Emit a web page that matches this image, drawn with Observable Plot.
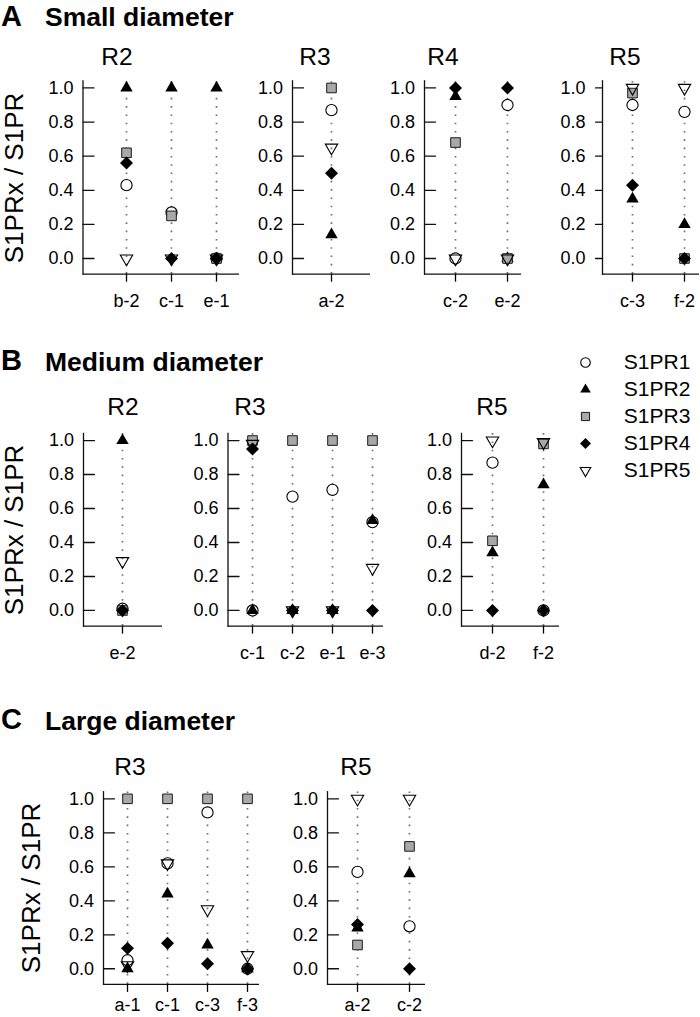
<!DOCTYPE html>
<html><head><meta charset="utf-8">
<script src="https://cdn.jsdelivr.net/npm/d3@7"></script>
<script src="https://cdn.jsdelivr.net/npm/@observablehq/plot@0.6"></script>
<style>
body{margin:0;background:#fff;}
#fig{position:relative;width:700px;height:1017px;font-family:"Liberation Sans",Arial,Helvetica,sans-serif;color:#000;overflow:hidden;background:#fff}
.abs{position:absolute;white-space:nowrap;line-height:1}
#fig svg{position:absolute;overflow:visible}
</style></head><body><div id="fig"></div>
<script>
// ---------------- DATA ----------------
const series = ["S1PR1", "S1PR2", "S1PR3", "S1PR4", "S1PR5"];
const yTicks = [0, 0.2, 0.4, 0.6, 0.8, 1.0];

// A  Small diameter  (rows: S1PR1..S1PR5, columns: samples)
const smallR2Samples = ["b-2", "c-1", "e-1"];
const smallR2Values = [[0.43, 0.27, 0.00], [1.00, 1.00, 1.00], [0.62, 0.25, 0.00], [0.56, 0.00, 0.00], [0.00, 0.00, 0.00]];
const smallR3Samples = ["a-2"];
const smallR3Values = [[0.87], [0.14], [1.00], [0.50], [0.65]];
const smallR4Samples = ["c-2", "e-2"];
const smallR4Values = [[0.00, 0.90], [0.95, 0.00], [0.68, 0.00], [1.00, 1.00], [0.00, 0.00]];
const smallR5Samples = ["c-3", "f-2"];
const smallR5Values = [[0.90, 0.86], [0.35, 0.20], [0.97, 0.00], [0.43, 0.00], [1.00, 1.00]];

// B  Medium diameter
const mediumR2Samples = ["e-2"];
const mediumR2Values = [[0.01], [1.00], [0.00], [0.00], [0.29]];
const mediumR3Samples = ["c-1", "c-2", "e-1", "e-3"];
const mediumR3Values = [[0.00, 0.67, 0.71, 0.52], [0.00, 0.00, 0.00, 0.53], [1.00, 1.00, 1.00, 1.00], [0.95, 0.00, 0.00, 0.00], [0.98, 0.00, 0.00, 0.25]];
const mediumR5Samples = ["d-2", "f-2"];
const mediumR5Values = [[0.87, 0.00], [0.34, 0.74], [0.41, 0.98], [0.00, 0.00], [1.00, 0.99]];

// C  Large diameter
const largeR3Samples = ["a-1", "c-1", "c-3", "f-3"];
const largeR3Values = [[0.05, 0.62, 0.92, 0.00], [0.00, 0.44, 0.14, 0.00], [1.00, 1.00, 1.00, 1.00], [0.12, 0.15, 0.03, 0.00], [0.02, 0.62, 0.35, 0.08]];
const largeR5Samples = ["a-2", "c-2"];
const largeR5Values = [[0.57, 0.25], [0.24, 0.56], [0.14, 0.72], [0.26, 0.00], [1.00, 1.00]];

// ---------------- STYLE ----------------
const FONT = '"Liberation Sans", Arial, Helvetica, sans-serif';
const yDomain = [-0.092, 1.042];

function makeSymbol(fn) { return {draw(ctx, size) { fn(ctx, Math.sqrt(size / Math.PI)); }}; }
const circleSym = makeSymbol((c, s) => { c.moveTo(s, 0); c.arc(0, 0, s, 0, 2 * Math.PI); c.closePath(); });
const triUpSym = makeSymbol((c, s) => { const h = s * 1.732; c.moveTo(0, -2 / 3 * h); c.lineTo(s, h / 3); c.lineTo(-s, h / 3); c.closePath(); });
const triDownSym = makeSymbol((c, s) => { const h = s * 1.732; c.moveTo(0, 2 / 3 * h); c.lineTo(s, -h / 3); c.lineTo(-s, -h / 3); c.closePath(); });
const squareSym = makeSymbol((c, s) => { const a = 0.8 * s; c.moveTo(-a, -a); c.lineTo(a, -a); c.lineTo(a, a); c.lineTo(-a, a); c.closePath(); });
const diamondSym = makeSymbol((c, s) => { const a = 1.08 * s; c.moveTo(0, -a); c.lineTo(a, 0); c.lineTo(0, a); c.lineTo(-a, 0); c.closePath(); });

const seriesStyle = [
  {symbol: circleSym, r: 5.6, fill: "white", stroke: "black", strokeWidth: 1.1},
  {symbol: triUpSym, r: 6.2, fill: "black", stroke: "none"},
  {symbol: squareSym, r: 6, fill: "#a8a8a8", stroke: "#1a1a1a", strokeWidth: 1},
  {symbol: diamondSym, r: 6, fill: "black", stroke: "none"},
  {symbol: triDownSym, r: 6.2, fill: "none", stroke: "black", strokeWidth: 1.1}
];
const tickShape = {draw(ctx, l) { ctx.moveTo(0, 0); ctx.lineTo(0, -l); }};

const rows = {
  A: {top: 70, height: 250, marginTop: 10.3, marginBottom: 46.3, xPad: 12},
  B: {top: 420, height: 250, marginTop: 12.9, marginBottom: 44.4, xPad: 12},
  C: {top: 780, height: 237, marginTop: 11.2, marginBottom: 33.1, xPad: 5.5}
};

const panels = [
  {row: "A", samples: smallR2Samples, values: smallR2Values, left: 40, axis: 82.5, right: 239, first: 126, last: 216, dir: "in", title: "R2", tx: 117, ty: 57},
  {row: "A", samples: smallR3Samples, values: smallR3Values, left: 250, axis: 292, right: 370, first: 331, last: 331, dir: "in", title: "R3", tx: 315, ty: 57},
  {row: "A", samples: smallR4Samples, values: smallR4Values, left: 382, axis: 424, right: 521, first: 455, last: 507, dir: "in", title: "R4", tx: 443, ty: 57},
  {row: "A", samples: smallR5Samples, values: smallR5Values, left: 560, axis: 602, right: 699, first: 632, last: 684, dir: "out", title: "R5", tx: 625, ty: 57},
  {row: "B", samples: mediumR2Samples, values: mediumR2Values, left: 40, axis: 83, right: 162, first: 122, last: 122, dir: "in", title: "R2", tx: 123, ty: 406.6},
  {row: "B", samples: mediumR3Samples, values: mediumR3Values, left: 186, axis: 227.5, right: 383, first: 252, last: 372, dir: "in", title: "R3", tx: 250, ty: 406.6},
  {row: "B", samples: mediumR5Samples, values: mediumR5Values, left: 419, axis: 461, right: 559, first: 492, last: 543, dir: "in", title: "R5", tx: 492, ty: 406.6},
  {row: "C", samples: largeR3Samples, values: largeR3Values, left: 60, axis: 103, right: 259, first: 127, last: 247, dir: "in", title: "R3", tx: 130, ty: 767},
  {row: "C", samples: largeR5Samples, values: largeR5Values, left: 285, axis: 327, right: 425, first: 357, last: 409, dir: "in", title: "R5", tx: 356, ty: 767}
];

const fig = document.getElementById("fig");
function addText(txt, css) {
  const d = document.createElement("div");
  d.className = "abs";
  d.textContent = txt;
  Object.assign(d.style, css);
  fig.appendChild(d);
  return d;
}

function panelPlot(p) {
  const r = rows[p.row];
  const width = Math.max(p.right, p.last + 15) - p.left;
  const marginLeft = p.axis - p.left;
  const marginRight = width - (p.right - p.left);
  const marks = [
    Plot.ruleX(p.samples, {x: d => d, y1: yDomain[0], y2: yDomain[1], stroke: "#707070", strokeWidth: 1.7, strokeDasharray: "1.6,6.7"})
  ];
  series.forEach((s, k) => {
    const data = p.samples.map((smp, j) => ({sample: smp, value: p.values[k][j]}));
    marks.push(Plot.dot(data, {x: "sample", y: "value", ...seriesStyle[k]}));
  });
  marks.push(Plot.ruleY([yDomain[0]], {stroke: "#111", strokeWidth: 1.3}));
  marks.push(Plot.frame({anchor: "left", stroke: "#111", strokeWidth: 1.3}));
  marks.push(Plot.vector(yTicks, {y: d => d, frameAnchor: "left", length: p.dir === "in" ? 11 : 7, rotate: p.dir === "in" ? 90 : -90, anchor: "start", shape: tickShape, stroke: "#111", strokeWidth: 1.3}));
  marks.push(Plot.axisY({ticks: yTicks, tickFormat: d3.format(".1f"), tickSize: 0, tickPadding: p.dir === "in" ? 9.5 : 17, fontSize: 18, label: null}));
  marks.push(Plot.axisX({tickSize: 8, tickPadding: r.xPad, fontSize: 18, label: null, strokeWidth: 1.3}));
  const svg = Plot.plot({
    width, height: r.height, marginLeft, marginRight, marginTop: r.marginTop, marginBottom: r.marginBottom,
    x: {type: "point", domain: p.samples, range: [p.first - p.left, p.last - p.left], padding: 0},
    y: {domain: yDomain},
    style: {fontFamily: FONT, color: "#000", background: "none", overflow: "visible"},
    marks
  });
  svg.style.left = p.left + "px";
  svg.style.top = r.top + "px";
  fig.appendChild(svg);
  addText(p.title, {left: p.tx + "px", top: (p.ty - 0.49 * 24.5) + "px", fontSize: "24.5px", transform: "translateX(-50%)"});
}
panels.forEach(panelPlot);

// Section headers
const headers = [
  {letter: "A", text: "Small diameter", base: 26.5},
  {letter: "B", text: "Medium diameter", base: 371},
  {letter: "C", text: "Large diameter", base: 730}
];
headers.forEach(h => {
  addText(h.letter, {left: "1px", top: (h.base - 0.8465 * 29) + "px", fontSize: "29px", fontWeight: "bold"});
  addText(h.text, {left: "45px", top: (h.base - 0.8465 * 26.5) + "px", fontSize: "26.5px", fontWeight: "bold"});
});

// y-axis labels
[{x: 13.5, y: 178}, {x: 13.5, y: 530}, {x: 31, y: 888}].forEach(l => {
  addText("S1PRx / S1PR", {left: l.x + "px", top: l.y + "px", fontSize: "26px", transform: "translate(-50%,-50%) rotate(-90deg)"});
});

// Legend
const legendMarks = [];
series.forEach((s, k) => {
  const st = seriesStyle[k];
  legendMarks.push(Plot.dot([s], {x: 0, y: d => d, ...st, r: st.r * 0.85}));
});
legendMarks.push(Plot.text(series, {x: 1, y: d => d, text: d => d, textAnchor: "start", fontSize: 21}));
const legend = Plot.plot({
  width: 125, height: 140, margin: 0,
  x: {domain: [0, 1], range: [15, 53.3], axis: null},
  y: {type: "point", domain: series, range: [15, 126.7], padding: 0, axis: null},
  style: {fontFamily: FONT, color: "#000", background: "none", overflow: "visible"},
  marks: legendMarks
});
legend.style.left = "570px";
legend.style.top = "345px";
fig.appendChild(legend);
</script></body></html>
